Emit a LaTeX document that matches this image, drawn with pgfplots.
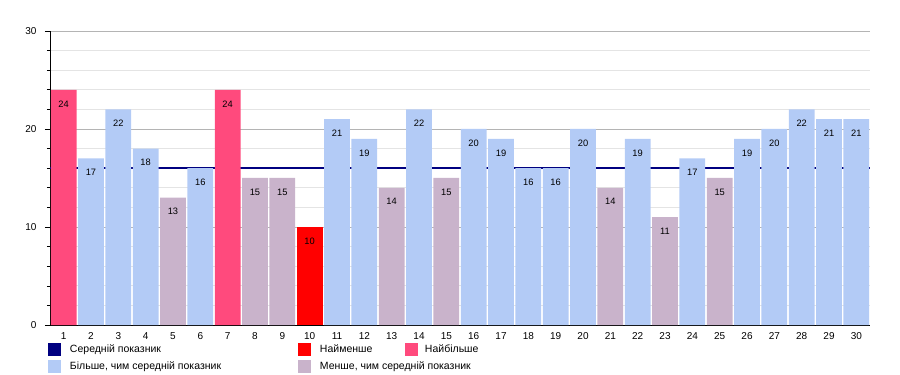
\documentclass[border=0pt]{standalone}
\usepackage{pgfplots}
\pgfplotsset{compat=1.18}
\usepackage{fontspec}
\setmainfont{Liberation Sans}
\definecolor{avgc}{HTML}{000080}
\definecolor{minc}{HTML}{FF0000}
\definecolor{maxc}{HTML}{FF4A7D}
\definecolor{abovec}{HTML}{B3CBF6}
\definecolor{belowc}{HTML}{C9B3CB}
\definecolor{majgrid}{HTML}{B4B4B4}
\definecolor{mingrid}{HTML}{E4E4E4}
\begin{document}
\begin{tikzpicture}
\begin{axis}[
  scale only axis,
  width=820bp, height=294bp,
  xmin=0.5, xmax=30.5, ymin=0, ymax=30,
  axis x line*=bottom, axis y line*=left,
  axis line style={black, line width=0.8bp, -},
  xtick={1,...,30}, major x tick style={draw=none},
  ytick={0,10,20,30}, minor ytick={2,4,6,8,12,14,16,18,22,24,26,28},
  tick align=outside,
  major tick length=5bp, minor tick length=3bp,
  tick style={black, line width=0.6bp},
  ymajorgrids, yminorgrids,
  major grid style={majgrid, line width=0.8bp},
  minor grid style={mingrid, line width=0.8bp},
  /pgf/number format/assume math mode=true,
  tick label style={font=\fontsize{10bp}{11bp}\selectfont},
  yticklabel style={xshift=-5bp},
  xticklabel style={yshift=1bp},
  ybar, bar width=25.8bp, bar shift=0pt,
  nodes near coords,
  every node near coord/.append style={font=\fontsize{9.3bp}{10bp}\selectfont, anchor=center, yshift=-14bp, black},
  legend columns=3, legend cell align=left,
  legend image code/.code={\fill[#1, draw=none] (0bp,-6.5bp) rectangle (13bp,6.5bp);},
  legend style={at={(0,0)}, anchor=north west, xshift=-2bp, yshift=-18bp,
    draw=none, fill=none, inner sep=0pt, outer sep=0pt, row sep=4bp, column sep=0pt,
    nodes={inner sep=0pt, outer sep=0pt},
    font=\fontsize{10.5bp}{12bp}\selectfont},
]
\addplot[sharp plot, avgc, line width=2.6bp, forget plot, nodes near coords=] coordinates {(0.5,16) (30.5,16)};
\addplot[fill=abovec, draw=none, forget plot] coordinates {
(2,17) (3,22) (4,18) (6,16) (11,21) (12,19) (14,22) (16,20) (17,19) (18,16) (19,16) (20,20) (22,19) (24,17) (26,19) (27,20) (28,22) (29,21) (30,21)};
\addplot[fill=belowc, draw=none, forget plot] coordinates {
(5,13) (8,15) (9,15) (13,14) (15,15) (21,14) (23,11) (25,15)};
\addplot[fill=maxc, draw=none, forget plot] coordinates {(1,24) (7,24)};
\addplot[fill=minc, draw=none, forget plot] coordinates {(10,10)};
\addlegendimage{fill=avgc}
\addlegendentry{\makebox[237bp][l]{\hspace*{9bp}Середній показник}}
\addlegendimage{fill=minc}
\addlegendentry{\makebox[94bp][l]{\hspace*{9bp}Найменше}}
\addlegendimage{fill=maxc}
\addlegendentry{\hspace*{7bp}Найбільше}
\addlegendimage{fill=abovec}
\addlegendentry{\makebox[237bp][l]{\hspace*{9bp}Більше, чим середній показник}}
\addlegendimage{fill=belowc}
\addlegendentry{\makebox[94bp][l]{\hspace*{9bp}Менше, чим середній показник}}
\end{axis}
\pgfresetboundingbox
\path (-50bp,-50bp) rectangle (850bp,325bp);
\end{tikzpicture}
\end{document}
